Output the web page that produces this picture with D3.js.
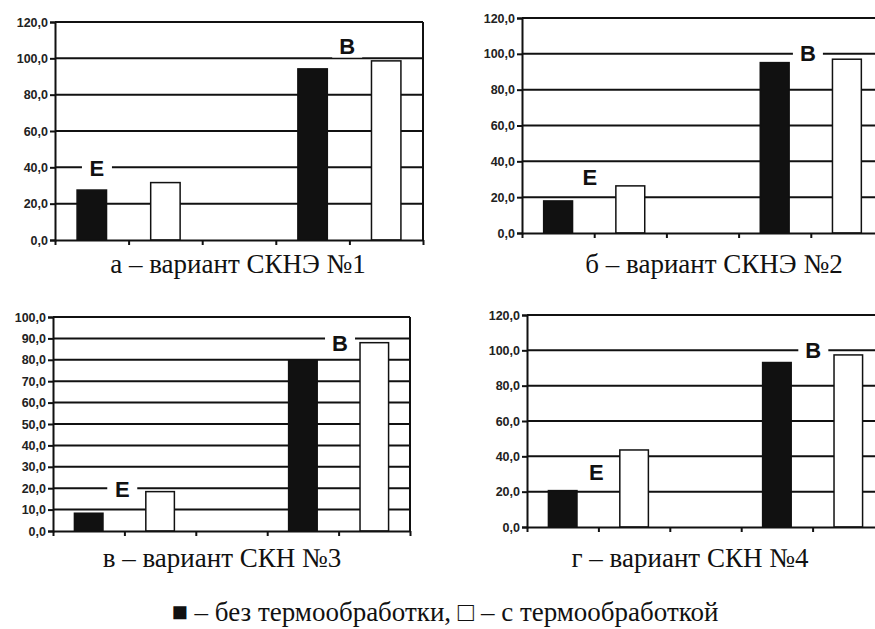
<!DOCTYPE html>
<html>
<head>
<meta charset="utf-8">
<script src="https://cdn.jsdelivr.net/npm/d3@7"></script>
<style>
  body { margin: 0; background: #fff; }
  svg { display: block; }
  .tick text { font-family: "Liberation Sans", Arial, sans-serif; font-weight: bold; font-size: 12.5px; fill: #222; }
  .cap { font-family: "Liberation Serif", "Times New Roman", serif; font-size: 27px; fill: #111; }
  .tag { font-family: "Liberation Sans", Arial, sans-serif; font-weight: bold; font-size: 22px; fill: #111; }
</style>
</head>
<body>
<div id="container"></div>
<script>
// bar slots: E group, gap, B group
var slots = ['E0', 'E1', 'gap', 'B0', 'B1']
var groups = ['E', 'B']
var series = ['без термообработки', 'с термообработкой']

// values per panel, order: E без, E с, B без, B с
var valuesA = [27.5, 31.6, 94.2, 98.6]
var valuesB = [17.9, 26.3, 95.1, 97.0]
var valuesC = [8.3, 18.4, 80.0, 88.0]
var valuesD = [20.6, 43.6, 93.1, 97.4]

var yMaxes = [120, 120, 100, 120]
var ySteps = [20, 20, 10, 20]

var captions = ['а – вариант СКНЭ №1', 'б – вариант СКНЭ №2', 'в – вариант СКН №3', 'г – вариант СКН №4']
var legendText = '■ – без термообработки,  □ – с термообработкой'

// layout of panels (pixels) and where the E / B tags sit
var panels = [
  { values: valuesA, left: 55, right: 423, top: 22, bottom: 240, tagE: [0.57, 39.7], tagB: [3.97, 107], capX: 238, capY: 273 },
  { values: valuesB, left: 522, right: 883, top: 18, bottom: 233, tagE: [0.94, 31.3], tagB: [3.96, 100.5], capX: 714, capY: 273 },
  { values: valuesC, left: 53, right: 410, top: 317, bottom: 531, tagE: [0.97, 19.6], tagB: [4.02, 87.9], capX: 222, capY: 567 },
  { values: valuesD, left: 527, right: 884, top: 315, bottom: 527, tagE: [0.97, 31.2], tagB: [4.01, 100.3], capX: 690, capY: 567 }
]

var svg = d3.select('#container').append('svg').attr('width', 875).attr('height', 629)

var drawPanel = function(p, i) {
  var g = svg.append('g')
  var yMax = yMaxes[i], step = ySteps[i]
  var y = d3.scaleLinear().domain([0, yMax]).range([p.bottom, p.top])
  var x = d3.scaleBand().domain(slots).range([p.left, p.right]).padding(0)
  var xs = d3.scaleLinear().domain([0, slots.length]).range([p.left, p.right])
  var yTicks = d3.range(0, yMax + step / 2, step)

  // gridlines
  g.selectAll('line.grid').data(yTicks.slice(1)).join('line')
    .attr('class', 'grid')
    .attr('x1', p.left).attr('x2', p.right)
    .attr('y1', function(d) { return y(d) }).attr('y2', function(d) { return y(d) })
    .attr('stroke', '#111').attr('stroke-width', 2)

  // right border
  g.append('line')
    .attr('x1', p.right).attr('x2', p.right).attr('y1', p.top).attr('y2', p.bottom)
    .attr('stroke', '#111').attr('stroke-width', 2)

  // E / B tags with white box over gridlines
  var tags = [{ t: groups[0], pos: p.tagE }, { t: groups[1], pos: p.tagB }]
  tags.forEach(function(tag) {
    var cx = xs(tag.pos[0]), cy = y(tag.pos[1])
    g.append('rect').attr('x', cx - 15).attr('y', cy - 12).attr('width', 30).attr('height', 24).attr('fill', '#fff')
    g.append('text').attr('class', 'tag').attr('x', cx).attr('y', cy + 8).attr('text-anchor', 'middle').text(tag.t)
  })

  // bars
  var barSlots = ['E0', 'E1', 'B0', 'B1']
  var bw = x.bandwidth() * 0.4
  g.selectAll('rect.bar').data(p.values).join('rect')
    .attr('class', 'bar')
    .attr('x', function(d, j) { return x(barSlots[j]) + (x.bandwidth() - bw) / 2 })
    .attr('y', function(d) { return y(d) })
    .attr('width', bw)
    .attr('height', function(d) { return p.bottom - y(d) })
    .attr('fill', function(d, j) { return j % 2 == 0 ? '#111' : '#fff' })
    .attr('stroke', '#111').attr('stroke-width', 1.5)

  // y axis
  var fmt = function(d) { return d3.format('.1f')(d).replace('.', ',') }
  var ya = g.append('g').attr('transform', 'translate(' + p.left + ',0)')
    .call(d3.axisLeft(y).tickValues(yTicks).tickFormat(fmt).tickSize(5).tickPadding(2))
  ya.selectAll('path, line').attr('stroke', '#111').attr('stroke-width', 2)

  // x axis, ticks at slot boundaries
  var xa = g.append('g').attr('transform', 'translate(0,' + p.bottom + ')')
    .call(d3.axisBottom(xs).tickValues(d3.range(0, slots.length + 1)).tickFormat('').tickSize(5).tickSizeOuter(0))
  xa.selectAll('path, line').attr('stroke', '#111').attr('stroke-width', 2)

  svg.append('text').attr('class', 'cap').attr('x', p.capX).attr('y', p.capY)
    .attr('text-anchor', 'middle').text(captions[i])
}

panels.map(drawPanel)

svg.append('text').attr('class', 'cap').attr('x', 445).attr('y', 621)
  .attr('text-anchor', 'middle').text(legendText)
</script>
</body>
</html>
